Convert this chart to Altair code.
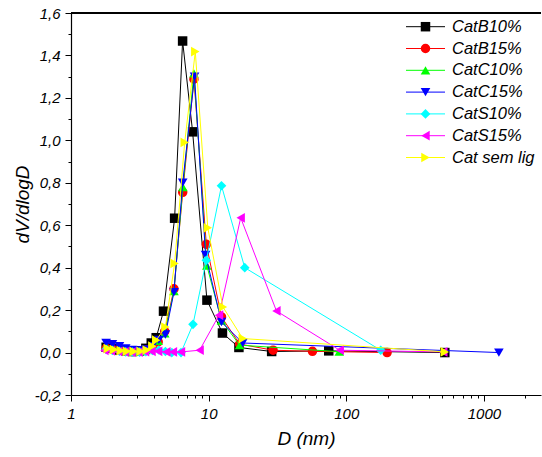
import altair as alt
import pandas as pd

# Pore size distribution (BJH) for each catalyst
series_names = ["CatB10%", "CatB15%", "CatC10%", "CatC15%", "CatS10%", "CatS15%", "Cat sem lig"]
series_colors = ["#000000", "#FF0000", "#00FF00", "#0000FF", "#00FFFF", "#FF00FF", "#FFFF00"]
series_shapes = ["square", "circle", "triangle-up", "triangle-down", "diamond", "triangle-left", "triangle-right"]
series_sizes = [90, 95, 125, 125, 125, 125, 125]

catb10_d = [1.8, 2.0, 2.25, 2.5, 2.8, 3.15, 3.5, 3.83, 4.16, 4.7, 5.66, 6.47, 7.65, 9.72, 12.6, 16.6, 28.7, 74.6, 520]
catb10_v = [0.025, 0.02, 0.012, 0.008, 0.005, 0.008, 0.02, 0.045, 0.07, 0.195, 0.633, 1.468, 1.04, 0.247, 0.092, 0.024, 0.005, 0.008, 0.0]

catb15_d = [1.8, 2.0, 2.25, 2.5, 2.8, 3.15, 3.5, 3.9, 4.3, 4.8, 5.6, 6.48, 7.82, 9.62, 12.4, 16.8, 29.4, 56.8, 198]
catb15_v = [0.02, 0.015, 0.01, 0.006, 0.004, 0.005, 0.012, 0.025, 0.05, 0.1, 0.30, 0.755, 1.288, 0.51, 0.168, 0.04, 0.011, 0.006, 0.0]

catc10_d = [1.8, 2.0, 2.25, 2.5, 2.8, 3.15, 3.5, 3.9, 4.3, 4.8, 5.6, 6.5, 7.82, 9.7, 12.4, 16.8, 89]
catc10_v = [0.03, 0.025, 0.018, 0.01, 0.006, 0.006, 0.012, 0.03, 0.055, 0.09, 0.29, 0.78, 1.316, 0.41, 0.15, 0.035, 0.004]

catc15_d = [1.8, 2.0, 2.25, 2.5, 2.8, 3.15, 3.5, 3.9, 4.35, 4.85, 5.6, 6.48, 7.9, 9.5, 12.4, 17.7, 1285]
catc15_v = [0.045, 0.04, 0.03, 0.02, 0.012, 0.01, 0.015, 0.03, 0.06, 0.085, 0.285, 0.80, 1.30, 0.46, 0.144, 0.045, 0.0]

cats10_d = [1.8, 2.0, 2.25, 2.5, 2.8, 3.15, 3.5, 3.9, 4.35, 4.85, 5.4, 6.3, 7.7, 9.62, 12.4, 18.3, 178]
cats10_v = [0.015, 0.01, 0.006, 0.003, 0.002, 0.002, 0.004, 0.01, 0.012, 0.005, 0.0, 0.0, 0.133, 0.435, 0.786, 0.40, 0.011]

cats15_d = [1.75, 1.95, 2.2, 2.45, 2.75, 3.1, 3.45, 3.85, 4.3, 4.93, 5.5, 6.3, 8.6, 11.9, 17.1, 31.1, 89.7, 507]
cats15_v = [0.01, 0.008, 0.005, 0.003, 0.002, 0.002, 0.004, 0.006, 0.006, 0.003, 0.003, 0.003, 0.011, 0.176, 0.635, 0.196, 0.011, 0.003]

catsl_d = [1.85, 2.05, 2.3, 2.55, 2.85, 3.2, 3.55, 3.9, 4.16, 4.85, 5.66, 6.7, 8.0, 9.86, 12.7, 17.7, 520]
catsl_v = [0.019, 0.014, 0.009, 0.006, 0.005, 0.006, 0.012, 0.03, 0.058, 0.12, 0.42, 0.99, 1.418, 0.588, 0.215, 0.066, 0.003]

series_d = [catb10_d, catb15_d, catc10_d, catc15_d, cats10_d, cats15_d, catsl_d]
series_v = [catb10_v, catb15_v, catc10_v, catc15_v, cats10_v, cats15_v, catsl_v]

x_ticks = [1, 2, 3, 4, 5, 6, 7, 8, 9, 10, 20, 30, 40, 50, 60, 70, 80, 90,
           100, 200, 300, 400, 500, 600, 700, 800, 900, 1000, 2000]
y_ticks = [round(-0.2 + 0.1 * i, 1) for i in range(19)]

rows = []
for name, ds, vs in zip(series_names, series_d, series_v):
    for d, v in zip(ds, vs):
        rows.append({"series": name, "D": d, "V": v})
df = pd.DataFrame(rows)

legend_df = pd.DataFrame({"series": series_names, "row": list(range(len(series_names)))})

FONT = "Liberation Sans"

color_scale = alt.Scale(domain=series_names, range=series_colors)
shape_scale = alt.Scale(domain=series_names, range=series_shapes)
size_scale = alt.Scale(domain=series_names, range=series_sizes)

x_enc = alt.X(
    "D:Q",
    scale=alt.Scale(type="log", domain=[1, 2600], nice=False),
    axis=alt.Axis(
        values=x_ticks,
        labelExpr="indexof([1,10,100,1000], datum.value) >= 0 ? format(datum.value, 'd') : ''",
        tickSize={"condition": {"test": "indexof([1,10,100,1000], datum.value) >= 0", "value": 6}, "value": 3},
        title="D (nm)",
        grid=False,
        labelFlush=False,
        labelPadding=5,
        titlePadding=8,
    ),
)
y_enc = alt.Y(
    "V:Q",
    scale=alt.Scale(domain=[-0.2, 1.6], nice=False, zero=False),
    axis=alt.Axis(
        values=y_ticks,
        labelExpr="abs(round(datum.value*10)) % 2 == 0 ? replace(replace(format(datum.value, '.1f'), '.', ','), '\u2212', '-') : ''",
        tickSize={"condition": {"test": "abs(round(datum.value*10)) % 2 == 0", "value": 6}, "value": 3},
        title="dV/dlogD",
        grid=False,
        labelFlush=False,
        labelPadding=5,
        titlePadding=2,
    ),
)

base = alt.Chart(df)
layers = []
for name in series_names:
    sub = base.transform_filter(alt.datum.series == name)
    line = sub.mark_line(strokeWidth=1, clip=True).encode(
        x=x_enc, y=y_enc,
        color=alt.Color("series:N", scale=color_scale, legend=None),
        order="D:Q",
    )
    pts = sub.mark_point(filled=True, opacity=1, clip=True).encode(
        x=x_enc, y=y_enc,
        color=alt.Color("series:N", scale=color_scale, legend=None),
        shape=alt.Shape("series:N", scale=shape_scale, legend=None),
        size=alt.Size("series:N", scale=size_scale, legend=None),
    )
    layers += [line, pts]

data_layer = alt.layer(*layers)

# top border of the frame
frame_top = alt.Chart(legend_df).mark_rule(color="black", strokeWidth=1.2).encode(
    x=alt.value(0), x2=alt.value(470), y=alt.value(0)
)

leg = alt.Chart(legend_df)
leg_y = alt.Y("row:Q", scale=alt.Scale(domain=[0, 6], range=[13.7, 144.5]), axis=None)
leg_line = leg.mark_rule(strokeWidth=1).encode(
    x=alt.value(335), x2=alt.value(374), y=leg_y,
    color=alt.Color("series:N", scale=color_scale, legend=None),
)
leg_pts = leg.mark_point(filled=True, opacity=1).encode(
    x=alt.value(354.5), y=leg_y,
    color=alt.Color("series:N", scale=color_scale, legend=None),
    shape=alt.Shape("series:N", scale=shape_scale, legend=None),
    size=alt.Size("series:N", scale=size_scale, legend=None),
)
leg_txt = leg.mark_text(align="left", baseline="middle", font=FONT, fontSize=16.5,
                        fontStyle="italic", color="black").encode(
    x=alt.value(381), y=leg_y, text="series:N"
)
legend_layer = alt.layer(leg_line, leg_pts, leg_txt)

chart = alt.layer(data_layer, legend_layer, frame_top).resolve_scale(y="independent").properties(
    width=470, height=382,
    autosize=alt.AutoSizeParams(type="none"),
    padding={"left": 71, "top": 13, "right": 1, "bottom": 62},
).configure_view(stroke=None).configure_axis(
    domainColor="black", domainWidth=1.2, tickColor="black", tickWidth=1,
    labelFont=FONT, labelFontSize=15, labelFontStyle="italic", labelColor="black",
    titleFont=FONT, titleFontSize=19, titleFontStyle="italic", titleFontWeight="normal", titleColor="black",
)

chart.save("out.html", embed_options={"renderer": "svg", "actions": False})
